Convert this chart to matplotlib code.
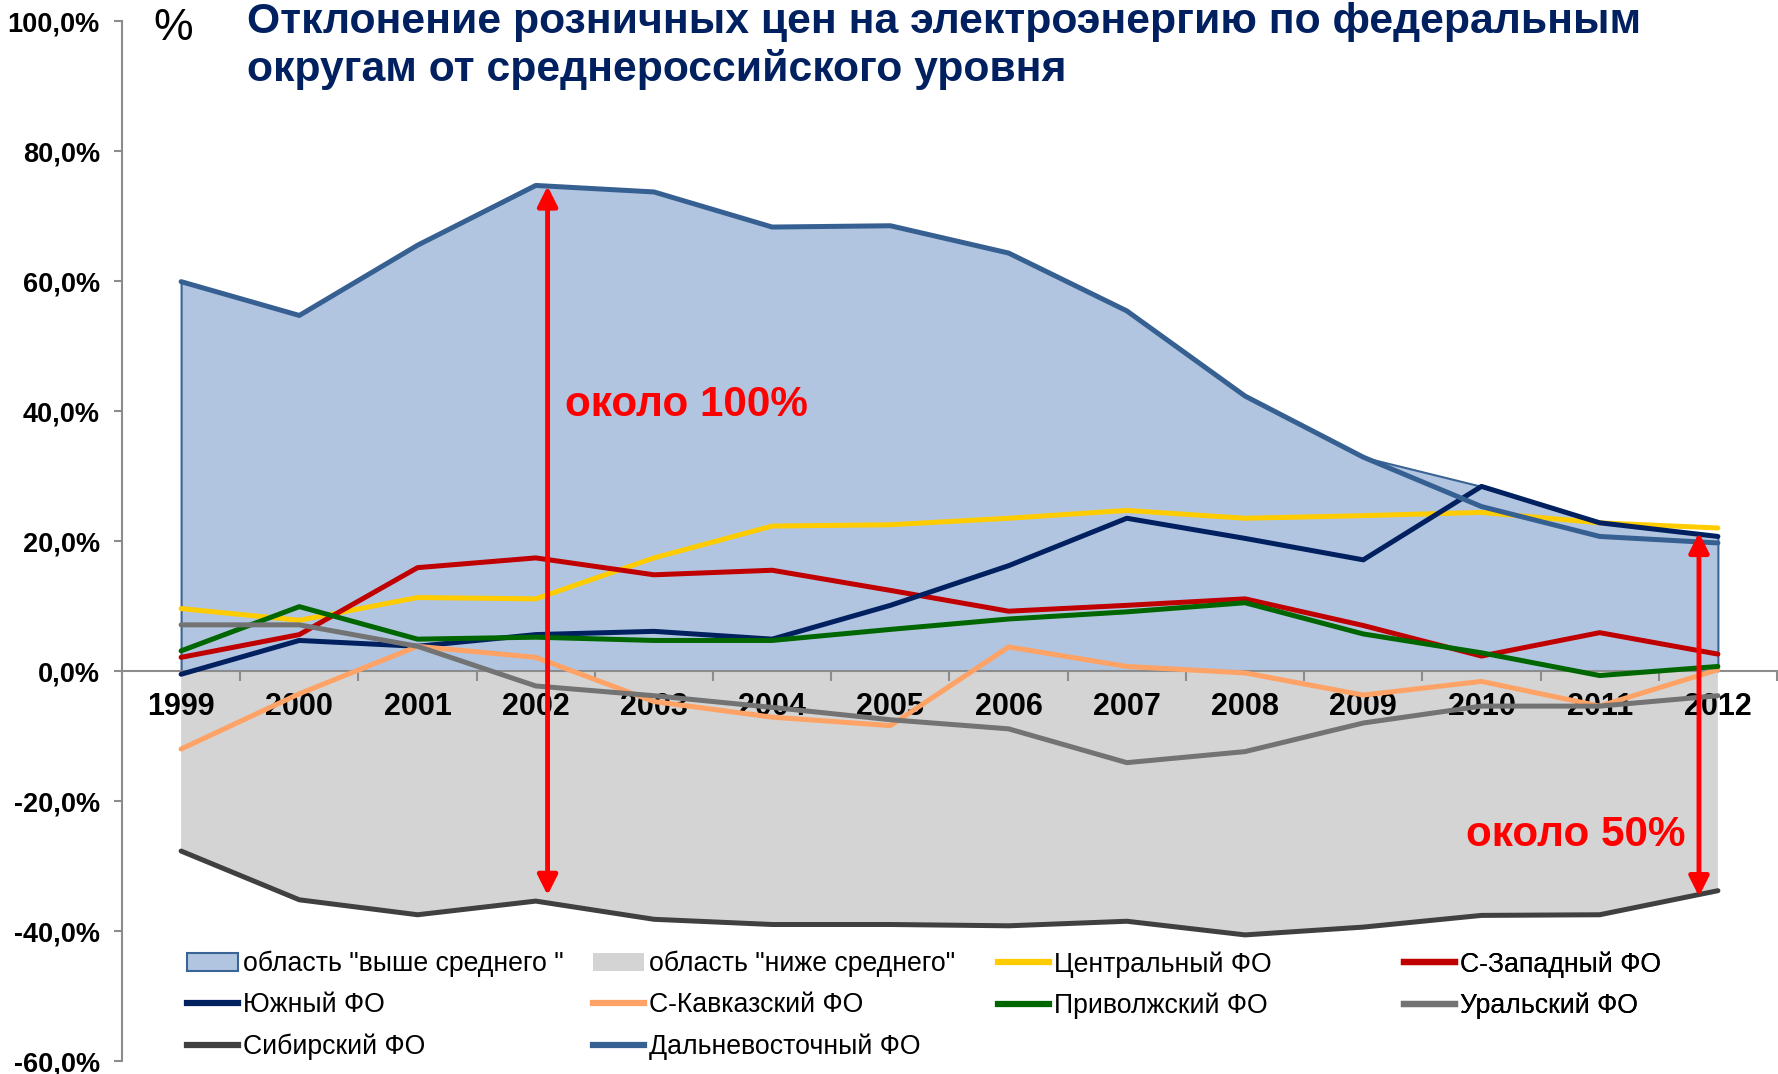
import numpy as np
import matplotlib
matplotlib.use("Agg")
import matplotlib.pyplot as plt
from matplotlib.patches import Patch
from matplotlib.lines import Line2D

plt.rcParams['font.family'] = ['Liberation Sans', 'DejaVu Sans']

years = ['1999', '2000', '2001', '2002', '2003', '2004', '2005',
         '2006', '2007', '2008', '2009', '2010', '2011', '2012']

central = [9.6, 7.8, 11.3, 11.1, 17.4, 22.3, 22.5, 23.5, 24.7, 23.5, 23.9, 24.4, 22.8, 22.0]
northwest = [2.1, 5.6, 15.9, 17.4, 14.8, 15.5, 12.4, 9.2, 10.1, 11.1, 7.0, 2.3, 5.9, 2.6]
south = [-0.5, 4.7, 3.8, 5.6, 6.1, 4.9, 10.1, 16.2, 23.5, 20.4, 17.1, 28.4, 22.8, 20.7]
ncaucasus = [-12.0, -3.5, 3.8, 2.1, -4.7, -7.1, -8.4, 3.7, 0.7, -0.3, -3.7, -1.6, -5.4, 0.2]
volga = [3.1, 9.9, 4.9, 5.2, 4.7, 4.7, 6.4, 8.0, 9.1, 10.5, 5.7, 2.8, -0.7, 0.7]
ural = [7.1, 7.1, 3.8, -2.3, -3.8, -5.6, -7.5, -8.9, -14.1, -12.4, -8.0, -5.4, -5.4, -3.8]
siberia = [-27.7, -35.2, -37.5, -35.4, -38.2, -39.0, -39.0, -39.2, -38.5, -40.6, -39.4, -37.6, -37.5, -33.8]
fareast = [59.9, 54.7, 65.5, 74.7, 73.7, 68.3, 68.5, 64.3, 55.4, 42.3, 32.9, 25.3, 20.7, 19.7]

# области выше / ниже среднего
above = [59.9, 54.7, 65.5, 74.7, 73.7, 68.3, 68.5, 64.3, 55.4, 42.3, 32.9, 28.4, 22.8, 20.7]
below = siberia

series = [
    ('Центральный ФО', central, '#FFCC00'),
    ('С-Западный ФО', northwest, '#C00000'),
    ('Южный ФО', south, '#002060'),
    ('С-Кавказский ФО', ncaucasus, '#FFA265'),
    ('Приволжский ФО', volga, '#006600'),
    ('Уральский ФО', ural, '#737373'),
    ('Сибирский ФО', siberia, '#404040'),
    ('Дальневосточный ФО', fareast, '#376092'),
]

fill_blue = '#B1C5E0'
fill_gray = '#D4D4D4'

x = np.arange(len(years))

fig = plt.figure(figsize=(17.78, 10.74), dpi=100)
ax = fig.add_axes([122 / 1778, 13 / 1074, 1655 / 1778, 1040 / 1074])

ax.fill_between(x, 0, above, facecolor=fill_blue, edgecolor='#3A6496', lw=1.5, zorder=1)
ax.fill_between(x, below, 0, facecolor=fill_gray, lw=0, zorder=1)

for name, vals, col in series:
    ax.plot(x, vals, color=col, lw=3.6, solid_capstyle='round',
            solid_joinstyle='round', zorder=3)

ax.set_xlim(-0.5, 13.5)
ax.set_ylim(-60, 100)

for s in ['top', 'right']:
    ax.spines[s].set_visible(False)
ax.spines['bottom'].set_position(('data', 0))
ax.spines['bottom'].set_color('#8C8C8C')
ax.spines['bottom'].set_linewidth(1.5)
ax.spines['bottom'].set_zorder(2)
ax.spines['left'].set_color('#8C8C8C')
ax.spines['left'].set_linewidth(1.5)

yt = np.arange(-60, 101, 20)
ax.set_yticks(yt)
ax.set_yticklabels([('%.1f%%' % v).replace('.', ',') for v in yt],
                   fontsize=19.5, fontweight='bold')
ax.tick_params(axis='y', direction='out', length=6, width=1.5, color='#8C8C8C', pad=10)

ax.set_xticks(np.arange(-0.5, 14, 1))
ax.set_xticklabels([])
ax.set_xticks(x, minor=True)
ax.set_xticklabels(years, minor=True, fontsize=22, fontweight='bold')
ax.tick_params(axis='x', which='major', direction='out', length=7, width=1.5, color='#8C8C8C')
ax.tick_params(axis='x', which='minor', length=0, pad=15)

# стрелки и подписи
arr = dict(arrowstyle='<|-|>,head_length=0.6,head_width=0.3', color='#FF0000',
           lw=3.5, mutation_scale=20, shrinkA=0, shrinkB=0)
ax.annotate('', xy=(3.1, 74.6), xytext=(3.1, -34.5), arrowprops=arr, zorder=4)
ax.annotate('', xy=(12.84, 21.3), xytext=(12.84, -34.7), arrowprops=arr, zorder=4)
ax.text(3.25, 39.2, 'около 100%', color='#FF0000', fontsize=30.4, fontweight='bold',
        va='baseline', ha='left', zorder=5)
ax.text(12.73, -27.0, 'около 50%', color='#FF0000', fontsize=30.4, fontweight='bold',
        va='baseline', ha='right', zorder=5)

# заголовок
fig.text(153 / 1778, 1 - 40 / 1074, '%', fontsize=32, va='baseline', ha='left')
fig.text(247 / 1778, 1 - 33 / 1074, 'Отклонение розничных цен на электроэнергию по федеральным',
         fontsize=30.8, fontweight='bold', color='#002060', va='baseline', ha='left')
fig.text(247 / 1778, 1 - 81 / 1074, 'округам от среднероссийского уровня',
         fontsize=30.8, fontweight='bold', color='#002060', va='baseline', ha='left')

# легенда: 4 колонки с одинаковым шагом
h_above = Patch(facecolor=fill_blue, edgecolor='#3A6496', lw=1.5)
h_below = Patch(facecolor=fill_gray, edgecolor='none')
lines = {name: Line2D([], [], color=col, lw=4.5) for name, vals, col in series}

cols = [
    [(h_above, 'область "выше среднего "'), (lines['Южный ФО'], 'Южный ФО'),
     (lines['Сибирский ФО'], 'Сибирский ФО')],
    [(h_below, 'область "ниже среднего"'), (lines['С-Кавказский ФО'], 'С-Кавказский ФО'),
     (lines['Дальневосточный ФО'], 'Дальневосточный ФО')],
    [(lines['Центральный ФО'], 'Центральный ФО'), (lines['Приволжский ФО'], 'Приволжский ФО')],
    [(lines['С-Западный ФО'], 'С-Западный ФО'), (lines['Уральский ФО'], 'Уральский ФО')],
]
col_x = [187, 593, 998, 1404]
for cx, items in zip(col_x, cols):
    leg = ax.legend([h for h, l in items], [l for h, l in items],
                    loc='upper left', bbox_to_anchor=(cx / 1778, 1 - 951 / 1074),
                    bbox_transform=fig.transFigure, frameon=False, fontsize=19.2,
                    handlelength=1.9, handleheight=0.7, handletextpad=0.2,
                    labelspacing=0.56, borderpad=0, borderaxespad=0)
    ax.add_artist(leg)

fig.savefig('out.png', dpi=100)
